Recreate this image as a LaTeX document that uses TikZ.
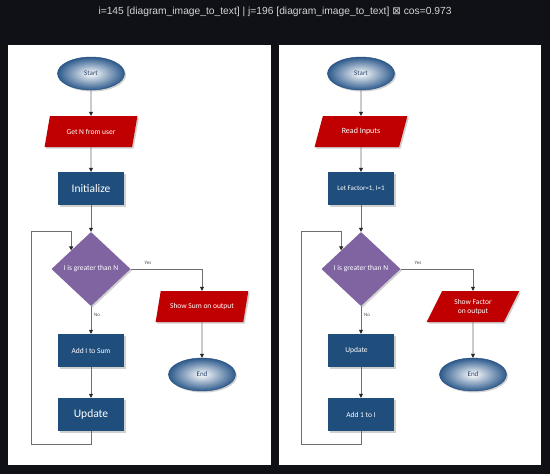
\documentclass[tikz,border=0pt]{standalone}
\usepackage{graphicx}
\usepackage{fontspec}
\setmainfont{Carlito}
\newfontfamily\hdrfont{Liberation Sans}
\newfontfamily\dejavu{DejaVu Sans}
\usetikzlibrary{shapes.geometric,arrows.meta,shadows}
\definecolor{bgdark}{HTML}{0F1117}
\definecolor{ellblue}{HTML}{2D5A8C}
\definecolor{ellborder}{HTML}{254E7D}
\definecolor{boxblue}{HTML}{1F4E7D}
\definecolor{iored}{HTML}{C00000}
\definecolor{decpurple}{HTML}{8064A2}
\definecolor{linegray}{HTML}{6E6E6E}
\definecolor{hdrgray}{HTML}{D4D4D4}
\definecolor{txtnavy}{HTML}{1F3864}
\begin{document}
\begin{tikzpicture}[x=1pt,y=-1pt,
 shad/.style={drop shadow={shadow xshift=1.5pt,shadow yshift=-1.5pt,opacity=0.3,fill=black!60}},
 term/.style={ellipse, shad, draw=ellborder, line width=0.4pt, shading=radial, inner color=white, outer color=ellblue, minimum width=67pt, minimum height=33pt, inner sep=0pt, text=txtnavy, font=\fontsize{7}{8}\selectfont},
 iobox/.style={trapezium, trapezium left angle=58.5, trapezium right angle=121.5, trapezium stretches=true, minimum width=93pt, minimum height=31pt, inner sep=0pt, fill=iored, shad, text=white, font=\fontsize{7.5}{9}\selectfont, align=center},
 procbox/.style={rectangle, fill=boxblue, shad, minimum width=66pt, minimum height=33pt, inner sep=0pt, text=white, font=\fontsize{7.5}{9}\selectfont, align=center},
 bigtext/.style={font=\fontsize{11.5}{14}\selectfont},
 decbox/.style={diamond, aspect=1.07, fill=decpurple, shad, minimum width=79pt, minimum height=74pt, inner sep=0pt, text=white, font=\fontsize{7.5}{9}\selectfont},
 conn/.style={draw=linegray, line width=0.7pt, -{Triangle[length=4pt,width=4pt,color=black!85]}},
 lbl/.style={font=\fontsize{5}{6}\selectfont, text=black!70, inner sep=0pt},
 panel/.style={fill=white},
]
\useasboundingbox (0,0) rectangle (550,474);
\fill[bgdark] (0,0) rectangle (550,474);
\node[font=\hdrfont\fontsize{10}{12}\selectfont, text=hdrgray, inner sep=0pt] (hdr) at (275,12)
  {\resizebox{353pt}{!}{i=145 [diagram\_image\_to\_text] | j=196 [diagram\_image\_to\_text] {\dejavu ⊠} cos=0.973}};
\fill[panel] (8,45) rectangle (271,465);
\fill[panel] (279,45) rectangle (541,465);

% ---------- left flowchart ----------
\node[term] (s1) at (91,73.5) {Start};
\node[iobox] (g1) at (91,131.5) {Get N from user};
\node[procbox, bigtext] (i1) at (91,188.5) {Initialize};
\node[decbox] (d1) at (91,269) {I is greater than N};
\node[iobox] (o1) at (202,306.5) {Show Sum on output};
\node[term] (e1) at (202,374.5) {End};
\node[procbox] (a1) at (91,350.5) {Add I to Sum};
\node[procbox, bigtext] (u1) at (91,414.5) {Update};
\coordinate (lA1) at (31,444);
\coordinate (lB1) at (31,231);
\node[lbl] (yes1) at (148,263) {Yes};
\node[lbl] (no1) at (97,315) {No};

\draw[conn] (s1.south) -- (g1.north);
\draw[conn] (g1.south) -- (i1.north);
\draw[conn] (i1.south) -- (d1.north);
\draw[conn] (d1.east) -| (o1.north);
\draw[conn] (d1.south) -- (a1.north);
\draw[conn] (o1.south) -- (e1.north);
\draw[conn] (a1.south) -- (u1.north);
\draw[conn] (u1.south) |- (lA1) -- (lB1) -| (d1.north west);

% ---------- right flowchart ----------
\node[term] (s2) at (361,73.5) {Start};
\node[iobox, font=\fontsize{8}{9.5}\selectfont] (g2) at (361,131.5) {Read Inputs};
\node[procbox, font=\fontsize{7}{8.5}\selectfont] (i2) at (361,188.5) {Let Factor=1, I=1};
\node[decbox] (d2) at (361,269) {I is greater than N};
\node[iobox] (o2) at (473,306.5) {Show Factor\\on output};
\node[term] (e2) at (473,374.5) {End};
\node[procbox] (a2) at (361,350.5) {\hspace*{-9pt}Update};
\node[procbox] (u2) at (361,414.5) {Add 1 to I};
\coordinate (lA2) at (301,444);
\coordinate (lB2) at (301,231);
\node[lbl] (yes2) at (418,263) {Yes};
\node[lbl] (no2) at (367,315) {No};

\draw[conn] (s2.south) -- (g2.north);
\draw[conn] (g2.south) -- (i2.north);
\draw[conn] (i2.south) -- (d2.north);
\draw[conn] (d2.east) -| (o2.north);
\draw[conn] (d2.south) -- (a2.north);
\draw[conn] (o2.south) -- (e2.north);
\draw[conn] (a2.south) -- (u2.north);
\draw[conn] (u2.south) |- (lA2) -- (lB2) -| (d2.north west);
\end{tikzpicture}
\end{document}
